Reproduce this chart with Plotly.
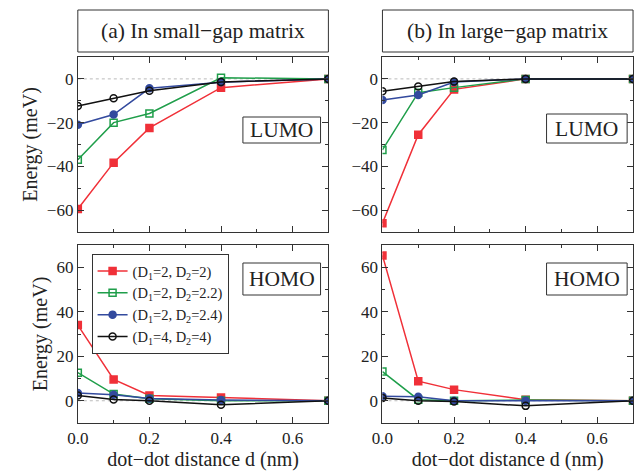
import plotly.graph_objects as go

d = [0.0, 0.1, 0.2, 0.4, 0.7]
series_names = ["(D<sub>1</sub>=2, D<sub>2</sub>=2)", "(D<sub>1</sub>=2, D<sub>2</sub>=2.2)",
                "(D<sub>1</sub>=2, D<sub>2</sub>=2.4)", "(D<sub>1</sub>=4, D<sub>2</sub>=4)"]

lumo_small = [
    [-59.5, -38.3, -22.4, -4.0, 0.0],
    [-37.0, -20.0, -15.8, 0.5, 0.0],
    [-21.0, -16.3, -4.3, -1.5, 0.0],
    [-12.4, -8.9, -5.4, -1.4, 0.0],
]
homo_small = [
    [34.0, 9.6, 2.4, 1.5, 0.0],
    [12.6, 3.0, 0.9, 0.0, 0.0],
    [3.5, 2.7, 1.0, 0.3, 0.0],
    [2.4, 0.6, 0.0, -1.8, 0.0],
]
lumo_large = [
    [-66.0, -25.5, -4.8, 0.0, 0.0],
    [-32.5, -6.3, -4.0, 0.0, 0.0],
    [-9.7, -7.4, -1.4, 0.0, 0.0],
    [-5.7, -3.5, -1.2, 0.0, 0.0],
]
homo_large = [
    [65.3, 8.8, 5.0, 0.5, 0.0],
    [13.1, 0.5, 0.0, 0.3, 0.0],
    [2.0, 1.8, 0.0, 0.0, 0.0],
    [1.2, 0.0, -0.3, -2.3, 0.0],
]

colors = ["#f03038", "#1f9e4a", "#334a9e", "#111111"]
symbols = ["square", "square-open", "circle", "circle-open"]

W, H = 635, 471
def px_x(p): return p / W
def px_y(p): return 1 - p / H

xl = (px_x(68), px_x(323))
xr = (px_x(378), px_x(633))
yt = (px_y(232), px_y(57))
yb = (px_y(423), px_y(245))

fig = go.Figure()

panels = [
    ("x", "y", lumo_small),
    ("x2", "y2", lumo_large),
    ("x3", "y3", homo_small),
    ("x4", "y4", homo_large),
]
for xa, ya, data in panels:
    for i, vals in enumerate(data):
        fig.add_trace(go.Scatter(
            x=d, y=vals, xaxis=xa, yaxis=ya, mode="lines+markers",
            name=series_names[i], showlegend=(xa == "x3"),
            line=dict(color=colors[i], width=1.5),
            marker=dict(symbol=symbols[i], size=7, color=colors[i],
                        line=dict(color=colors[i], width=1.5)),
        ))
    fig.add_shape(type="line", xref=f"{xa} domain", yref=ya, x0=0, x1=1, y0=0, y1=0,
                  line=dict(color="#bbbbbb", width=1, dash="dot"), layer="below")

font = "Liberation Serif"
def xaxis(dom, anchor, labels):
    return dict(domain=dom, anchor=anchor, range=[0, 0.7], dtick=0.2, tick0=0,
                tickformat=".1f", showticklabels=labels, ticks="inside", ticklen=6,
                showline=True, linecolor="#333", linewidth=1, mirror="ticks",
                showgrid=False, zeroline=False, tickcolor="#333",
                minor=dict(ticks="inside", dtick=0.1, ticklen=3, tickcolor="#333"),
                tickfont=dict(size=17, family=font, color="#222"),
                title=dict(text="dot−dot distance d (nm)" if labels else "",
                           font=dict(size=20, family=font, color="#222"), standoff=5))

def yaxis(dom, anchor, rng, title):
    return dict(domain=dom, anchor=anchor, range=rng, dtick=20, tick0=0,
                ticks="inside", ticklen=6, showline=True, linecolor="#333", linewidth=1,
                mirror="ticks", showgrid=False, zeroline=False, tickcolor="#333",
                minor=dict(ticks="inside", dtick=10, ticklen=3, tickcolor="#333"),
                tickfont=dict(size=17, family=font, color="#222"),
                title=dict(text="Energy (meV)" if title else "",
                           font=dict(size=20, family=font, color="#222"), standoff=3))

fig.update_layout(
    width=W, height=H, margin=dict(l=0, r=0, t=0, b=0),
    paper_bgcolor="white", plot_bgcolor="white",
    font=dict(family=font, color="#222"),
    xaxis=xaxis(xl, "y", False),
    xaxis2=xaxis(xr, "y2", False),
    xaxis3=xaxis(xl, "y3", True),
    xaxis4=xaxis(xr, "y4", True),
    yaxis=yaxis(yt, "x", [-70, 10], True),
    yaxis2=yaxis(yt, "x2", [-70, 10], False),
    yaxis3=yaxis(yb, "x3", [-10, 70], True),
    yaxis4=yaxis(yb, "x4", [-10, 70], False),
    legend=dict(x=px_x(82), y=px_y(254), xanchor="left", yanchor="top",
                bordercolor="#333", borderwidth=1, bgcolor="white",
                font=dict(size=14.5, family=font, color="#222"),
                tracegroupgap=0, itemwidth=30),
)

def box(x0, x1, y0, y1, text, size):
    fig.add_shape(type="rect", xref="paper", yref="paper",
                  x0=px_x(x0), x1=px_x(x1), y0=px_y(y1), y1=px_y(y0),
                  line=dict(color="#333", width=1), fillcolor="white")
    fig.add_annotation(xref="paper", yref="paper", x=px_x((x0 + x1) / 2),
                       y=px_y((y0 + y1) / 2), text=text, showarrow=False,
                       font=dict(size=size, family=font, color="#222"),
                       xanchor="center", yanchor="middle")

box(68, 323, 10, 52, "(a) In small−gap matrix", 21.5)
box(378, 633, 10, 52, "(b) In large−gap matrix", 21.5)
box(236, 315, 117, 143, "LUMO", 21.5)
box(545, 627, 114, 143, "LUMO", 21.5)
box(236, 315, 263, 295, "HOMO", 21.5)
box(545, 627, 263, 295, "HOMO", 21.5)

fig.write_html("out.html")
